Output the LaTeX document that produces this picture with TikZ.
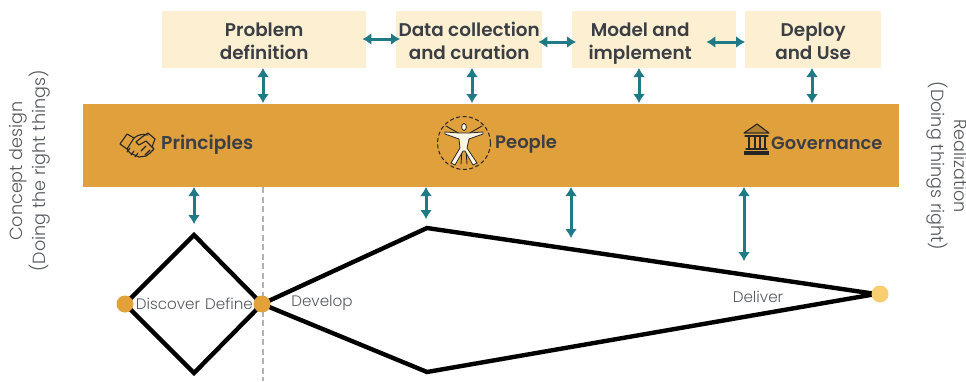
\documentclass[tikz,border=0pt]{standalone}
\usepackage{fontspec}
\setmainfont{Lato}
\newfontfamily\headf{Poppins SemiBold}
\newfontfamily\lightf{Poppins Light}
\usetikzlibrary{arrows.meta}
\definecolor{boxfill}{HTML}{FDF0D2}
\definecolor{band}{HTML}{E0A03C}
\definecolor{teal}{HTML}{1F7A85}
\definecolor{ink}{HTML}{3B3F45}
\definecolor{dotA}{HTML}{E3A13A}
\definecolor{dotB}{HTML}{F8CE70}
\definecolor{greytxt}{HTML}{55585C}
\newcommand{\hstrut}{\rule[-6pt]{0pt}{23pt}}
\newcommand{\hstruttop}{\rule[-6pt]{0pt}{29pt}}
\tikzset{
 topbox/.style={fill=boxfill,draw=none,inner sep=0pt,anchor=north west,align=center,text=ink,font=\headf\fontsize{18.4}{23}\selectfont},
 bandlabel/.style={text=ink,font=\headf\fontsize{18.6}{20}\selectfont,inner sep=0pt,anchor=west},
 phase/.style={text=greytxt,font=\lightf\fontsize{15.2}{18}\selectfont,inner sep=0pt},
 side/.style={text=greytxt,font=\lightf\fontsize{17.6}{23}\selectfont,align=center,inner sep=0pt},
 link/.style={draw=teal,line width=3pt,{Latex[length=9pt,width=12pt]}-{Latex[length=9pt,width=12pt]}},
 wire/.style={draw=black,line width=4.4pt,line join=miter,miter limit=3},
 dot/.style={circle,minimum size=17pt,inner sep=0pt,draw=none},
 icon/.style={draw=black!85,line width=1.1pt,line join=round,line cap=round}
}
\begin{document}
\begin{tikzpicture}[x=1pt,y=-1pt]
\useasboundingbox (0,0) rectangle (966,381);
% boxes
\node[topbox,minimum width=204pt,minimum height=57pt] (prob) at (162,11) {\hstruttop Problem\\\hstrut definition};
\node[topbox,minimum width=146pt,minimum height=57pt] (data) at (396,11) {\hstruttop Data collection\\\hstrut and curation};
\node[topbox,minimum width=164pt,minimum height=57pt] (model) at (572,11) {\hstruttop Model and\hspace*{28pt}\\\hstrut implement\hspace*{28pt}};
\node[topbox,minimum width=136pt,minimum height=57pt] (deploy) at (745,11) {\hstruttop Deploy\\\hstrut and Use};
\node[fill=band,draw=none,inner sep=0pt,anchor=north west,minimum width=816pt,minimum height=83pt] (bandbox) at (83,104) {};
% band labels
\node[bandlabel] (lprin) at (161,145) {Principles};
\node[bandlabel,font=\headf\fontsize{18}{20}\selectfont] (lpeop) at (495,144) {People};
\node[bandlabel,font=\headf\fontsize{17.8}{20}\selectfont] (lgov) at (771,143) {Governance};
% handshake icon
\begin{scope}[icon]
\draw (120,144) -- (127,134) -- (134,138) -- (127,149) -- cycle;
\draw (155,139) -- (148,133) -- (142,137);
\draw (155,139) -- (152,147);
\draw (134,138) .. controls (139,134) and (143,134) .. (148,135);
\draw (142,137) -- (136,142) -- (139,145) -- (146,141) -- (154,149) -- (150,153) -- (146,156);
\draw (127,149) -- (130,153) -- (139,157) -- (146,156);
\draw (130,148) -- (127,152) (134,151) -- (131,155) (138,153) -- (135,157);
\draw (146,146) -- (141,151) (150,150) -- (145,155);
\end{scope}
% people icon
\draw[black!85,line width=1pt,dash pattern=on 4pt off 2.5pt] (464,143) circle (26.5pt);
\begin{scope}[icon]
\fill[boxfill!60!white,draw=black!85,line width=.8pt] (464,127) ellipse (2.4pt and 3.5pt);
\draw[line width=.9pt] (446,126) -- (460,134) (482,126) -- (468,134);
\draw[line width=.9pt] (462,150) -- (461,164) (466,150) -- (467,164);
\fill[boxfill!60!white,draw=black!85,line width=.8pt] (445,132) -- (459,133) -- (469,133) -- (483,132) -- (483,134) -- (469,139) -- (467,148) -- (477,163) -- (473,165) -- (465,151) -- (463,151) -- (455,165) -- (451,163) -- (460,148) -- (459,139) -- (445,134) -- cycle;
\end{scope}
% temple icon
\begin{scope}[icon]
\fill[band!80!black] (744,132) -- (757,124) -- (769,132) -- cycle;
\draw (744,133) -- (757,124) -- (769,133) -- cycle;
\draw (745,136) -- (768,136);
\draw[line width=1.8pt] (749,137) -- (749,148) (755,137) -- (755,148) (760,137) -- (760,148) (765,137) -- (765,148);
\draw (746,149) -- (767,149);
\fill[black!85] (744,151) rectangle (769,155);
\end{scope}
% diamond and wing
\coordinate (dl) at (125,304);
\coordinate (dt) at (194,235);
\coordinate (dr) at (262,304);
\coordinate (db) at (194,373);
\coordinate (wt) at (427,228);
\coordinate (wb) at (427,372);
\coordinate (we) at (876,294);
\coordinate (gtop) at (263,187);
\coordinate (gbot) at (263,381);
\draw[gray!60,line width=1.8pt,dash pattern=on 6pt off 3.5pt] (gtop) -- (gbot);
\draw[wire] (dl) -- (dt) -- (dr) -- (db) -- cycle;
\draw[wire] (dr) -- (wt) -- (we) -- (wb) -- cycle;
\node[dot,fill=dotA] (n1) at (125,304) {};
\node[dot,fill=dotA] (n2) at (262,304) {};
\node[dot,fill=dotB] (n3) at (880,294) {};
\node[phase] (t1) at (168,304) {Discover};
\node[phase] (t2) at (229,304) {Define};
\node[phase] (t3) at (322,303) {Develop};
\node[phase] (t4) at (758,297) {Deliver};
% side labels
\node[side,rotate=90] (sl) at (30,171) {Concept design\\(Doing the right things)};
\node[side,rotate=-90] (sr) at (947,166) {Realization\\(Doing things right)};
% horizontal links
\coordinate (a1) at (prob.east |- 0,39);
\coordinate (b1) at (data.west |- 0,39);
\coordinate (a2) at (data.east |- 0,42);
\coordinate (b2) at (model.west |- 0,42);
\coordinate (a3) at (model.east |- 0,42);
\coordinate (b3) at (deploy.west |- 0,42);
\draw[link] ([xshift=-4pt]a1) -- ([xshift=4pt]b1);
\draw[link] ([xshift=-4pt]a2) -- ([xshift=4pt]b2);
\draw[link] ([xshift=-30pt]a3) -- (b3);
% vertical links
\draw[link] (263,68) -- (263,103);
\draw[link] (472,68) -- (472,103);
\draw[link] (639,68) -- (639,103);
\draw[link] (812,68) -- (812,103);
\draw[link] (194,187) -- (194,224);
\draw[link] (426,187) -- (426,219);
\draw[link] (571,187) -- (571,238);
\draw[link] (744,187) -- (744,261);
\end{tikzpicture}
\end{document}
